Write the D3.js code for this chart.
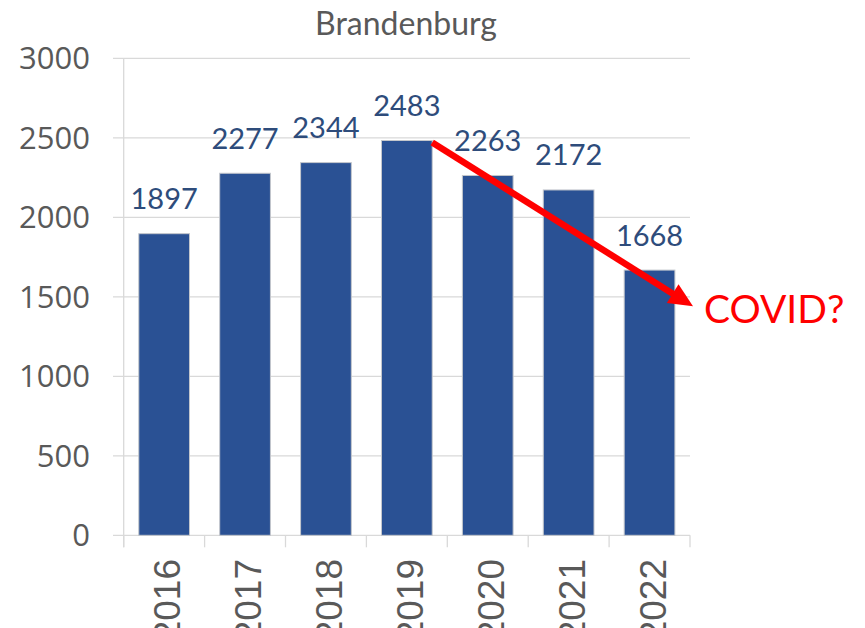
<!DOCTYPE html>
<html>
<head>
<meta charset="utf-8">
<script src="https://cdn.jsdelivr.net/npm/d3@7"></script>
<style>
  html, body { margin: 0; padding: 0; background: #ffffff; }
  svg { display: block; }
</style>
</head>
<body>
<svg id="chart" width="865" height="628"></svg>
<script>
const title = "Brandenburg";
const years = ["2016", "2017", "2018", "2019", "2020", "2021", "2022"];
const values = [1897, 2277, 2344, 2483, 2263, 2172, 1668];
const yTicks = [0, 500, 1000, 1500, 2000, 2500, 3000];
const annotationText = "COVID?";
const arrowFrom = { year: "2019", value: 2483 };
const arrowToValue = 1440;

const W = 865, H = 628;
const svg = d3.select("#chart");

const x = d3.scaleBand().domain(years).range([123.7, 690]).paddingInner(0.373).paddingOuter(0.1865);
const y = d3.scaleLinear().domain([0, 3000]).range([535.3, 58.3]);

const gridColor = "#d9d9d9";
const axisText = "#595959";

// gridlines
svg.append("g").selectAll("line").data(yTicks).join("line")
  .attr("x1", 113).attr("x2", 690)
  .attr("y1", d => y(d)).attr("y2", d => y(d))
  .attr("stroke", gridColor).attr("stroke-width", 1.3);

// vertical axis line
svg.append("line")
  .attr("x1", 123.7).attr("x2", 123.7)
  .attr("y1", y(3000)).attr("y2", y(0) + 12)
  .attr("stroke", gridColor).attr("stroke-width", 1.3);

// x tick marks at band boundaries
const step = x.step();
const boundaries = d3.range(years.length + 1).map(i => 123.7 + i * step);
svg.append("g").selectAll("line").data(boundaries).join("line")
  .attr("x1", d => d).attr("x2", d => d)
  .attr("y1", y(0)).attr("y2", y(0) + 12)
  .attr("stroke", gridColor).attr("stroke-width", 1.3);

// y labels
svg.append("g").selectAll("text").data(yTicks).join("text")
  .attr("x", 90).attr("y", d => y(d))
  .attr("dy", "0.36em")
  .attr("text-anchor", "end")
  .attr("font-family", "'Open Sans', sans-serif")
  .attr("font-size", 31)
  .attr("fill", axisText)
  .text(d => d);

// bars
const data = years.map((yr, i) => ({ year: yr, value: values[i] }));
svg.append("g").selectAll("rect").data(data).join("rect")
  .attr("x", d => x(d.year))
  .attr("y", d => y(d.value))
  .attr("width", x.bandwidth())
  .attr("height", d => y(0) - y(d.value))
  .attr("fill", "#2A5194")
  .attr("stroke", "#c4c7cc")
  .attr("stroke-width", 1);

// value labels
svg.append("g").selectAll("text").data(data).join("text")
  .attr("x", d => x(d.year) + x.bandwidth() / 2)
  .attr("y", d => y(d.value) - 24.5)
  .attr("text-anchor", "middle")
  .attr("font-family", "Lato, sans-serif")
  .attr("font-size", 29)
  .attr("fill", "#2E4C7B")
  .text(d => d.value);

// x labels, rotated
svg.append("g").selectAll("text").data(years).join("text")
  .attr("transform", d => `translate(${x(d) + x.bandwidth() / 2 + 16},559) rotate(-90)`)
  .attr("text-anchor", "end")
  .attr("font-family", "'Liberation Sans', Arial, sans-serif")
  .attr("font-size", 37)
  .attr("fill", axisText)
  .text(d => d);

// title
svg.append("text")
  .attr("x", 406).attr("y", 35)
  .attr("text-anchor", "middle")
  .attr("font-family", "Lato, sans-serif")
  .attr("font-size", 32)
  .attr("fill", axisText)
  .text(title);

// arrow annotation
const x0 = x(arrowFrom.year) + x.bandwidth(), y0 = y(arrowFrom.value) + 2;
const x1 = 693, y1 = y(arrowToValue);
const ang = Math.atan2(y1 - y0, x1 - x0);
const headLen = 24, headHalf = 11;
const bx = x1 - headLen * Math.cos(ang), by = y1 - headLen * Math.sin(ang);
const px = -Math.sin(ang), py = Math.cos(ang);
svg.append("line")
  .attr("x1", x0).attr("y1", y0)
  .attr("x2", bx + 2 * Math.cos(ang)).attr("y2", by + 2 * Math.sin(ang))
  .attr("stroke", "#ff0000").attr("stroke-width", 6.5);
svg.append("path")
  .attr("d", `M${x1},${y1} L${bx + px * headHalf},${by + py * headHalf} L${bx - px * headHalf},${by - py * headHalf} Z`)
  .attr("fill", "#ff0000");

svg.append("text")
  .attr("x", 704).attr("y", 322.7)
  .attr("font-family", "Lato, sans-serif")
  .attr("font-size", 39)
  .attr("fill", "#ff0000")
  .text(annotationText);
</script>
</body>
</html>
